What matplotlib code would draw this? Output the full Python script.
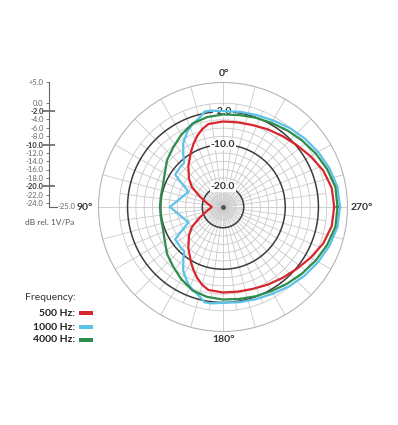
import numpy as np
import matplotlib
matplotlib.use("Agg")
import matplotlib.pyplot as plt
from matplotlib.patches import Rectangle

plt.rcParams['font.family'] = ['Lato', 'DejaVu Sans']

# angulos medidos desde el frente (270 grados en el grafico), mitad superior
phi_500 = [0, 10, 20, 30, 40, 50, 60, 70, 80, 90, 100, 105, 110, 115, 120,
           130, 140, 147, 155, 163, 170, 180]
db_500 = [1.8, 1.6, 0.7, -0.6, -1.8, -2.7, -3.4, -4.0, -4.3, -4.4, -4.7, -5.6,
          -6.8, -8.2, -9.6, -12.0, -14.3, -16.0, -18.7, -20.5, -21.5, -22.3]

phi_1000 = [0, 10, 20, 30, 40, 50, 60, 70, 80, 90, 97, 101, 104, 110, 115, 122,
            128, 131, 137, 146, 150, 156, 170, 180]
db_1000 = [3.2, 3.0, 2.3, 1.5, 0.7, -0.1, -0.9, -1.4, -1.7, -1.9, -1.6, -1.6,
           -2.6, -3.7, -4.8, -6.9, -9.5, -10.8, -10.9, -11.1, -13.5, -15.9,
           -14.3, -12.2]

phi_4000 = [0, 10, 20, 30, 40, 50, 60, 70, 80, 90, 100, 110, 120, 130, 140,
            150, 160, 170, 180]
db_4000 = [2.6, 2.5, 1.7, 0.8, -0.1, -0.9, -1.6, -2.1, -2.5, -2.7, -3.0, -3.6,
           -4.9, -6.3, -7.4, -8.8, -9.6, -9.8, -9.8]

series = [("500 Hz:", phi_500, db_500, "#d9262e"),
          ("1000 Hz:", phi_1000, db_1000, "#5cc3e8"),
          ("4000 Hz:", phi_4000, db_4000, "#2e8c4c")]

scale_ticks = [5, 0, -2, -4, -6, -8, -10, -12, -14, -16, -18, -20, -22, -24]
bold_rings = [-2, -10, -20]
angle_labels = ["0°", "90°", "180°", "270°"]

W, H = 398, 425


def px(x, y):
    # de pixeles a fraccion de figura
    return x / W, 1 - y / H


def simetrica(phi, db):
    # la respuesta es simetrica respecto al eje 90-270
    phi = np.array(phi, dtype=float)
    db = np.array(db, dtype=float)
    theta = np.concatenate([270 + phi, 270 - phi[::-1]])
    r = np.concatenate([db, db[::-1]])
    return np.radians(theta), r


fig = plt.figure(figsize=(W / 100, H / 100), dpi=100)

# ---- grafico polar ----
cx, cy, rad = 223, 207, 124.5
ax = fig.add_axes([(cx - rad) / W, (H - cy - rad) / H, 2 * rad / W, 2 * rad / H],
                  projection='polar')
ax.set_theta_zero_location('N')
ax.set_theta_direction(1)
ax.set_ylim(-25, 5)
ax.set_xticks([])
ax.set_yticks([])
ax.grid(False)
ax.spines['polar'].set_color('#b5b5b5')
ax.spines['polar'].set_linewidth(0.8)

grid_c = '#c9c9c9'
t_full = np.linspace(0, 2 * np.pi, 721)
for rr in range(-24, 1, 2):
    if rr in bold_rings:
        ax.plot(t_full, np.full_like(t_full, rr), color='#3c3c3c', lw=1.1, zorder=2)
    else:
        ax.plot(t_full, np.full_like(t_full, rr), color=grid_c, lw=0.6, zorder=1)

for a in np.arange(0, 360, 2.5):
    t = np.radians(a)
    if a % 15 == 0:
        ax.plot([t, t], [-25, 5], color=grid_c, lw=0.6, zorder=1)
    elif a % 7.5 == 0:
        ax.plot([t, t], [-25, 0], color=grid_c, lw=0.6, zorder=1)
    elif a % 5 == 0:
        ax.plot([t, t], [-25, -20], color='#d2d2d2', lw=0.4, zorder=1)

for rr in bold_rings:
    ax.text(0, rr, "%.1f" % rr, ha='center', va='center', fontsize=7.5,
            fontweight='bold', color='#333333', zorder=3,
            bbox=dict(facecolor='white', edgecolor='none', pad=0.6))

for nombre, phi, db, col in series:
    th, r = simetrica(phi, db)
    ax.plot(th, r, color=col, lw=1.6, zorder=4, solid_joinstyle='round')

ax.plot([0], [-25], 'o', ms=2.5, color='#555555', zorder=5)

# etiquetas de angulo
for lab, (x, y) in zip(angle_labels, [(224, 74), (85, 207), (224, 339), (362, 207)]):
    fig.text(*px(x, y), lab, ha='center', va='center', fontsize=7.5,
             fontweight='bold', color='#333333')

# ---- escala de la izquierda ----
ax_s = fig.add_axes([49.3 / W, (H - cy) / H, 7.5 / W, 125 / H])
ax_s.set_ylim(-25, 5)
ax_s.set_xlim(0, 1)
ax_s.patch.set_alpha(0)
for s in ['top', 'right']:
    ax_s.spines[s].set_visible(False)
for s in ['left', 'bottom']:
    ax_s.spines[s].set_color('#666666')
    ax_s.spines[s].set_linewidth(0.8)
ax_s.set_xticks([])
ax_s.set_yticks(scale_ticks)
ax_s.set_yticklabels([("+%.1f" % v) if v > 0 else ("%.1f" % v) for v in scale_ticks])
ax_s.tick_params(axis='y', direction='out', length=2.5, width=0.6, pad=1.5,
                 labelsize=5.5, colors='#666666')
for tk, v in zip(ax_s.yaxis.get_major_ticks(), scale_ticks):
    if v in bold_rings:
        tk.tick1line.set_marker('_')
        tk.tick1line.set_markersize(9)
        tk.tick1line.set_markeredgewidth(1.2)
        tk.tick1line.set_color('#444444')
        tk.label1.set_fontweight('bold')
        tk.label1.set_color('#333333')

fig.text(*px(58, 206.5), "-25.0", ha='left', va='center', fontsize=5.5, color='#666666')
fig.text(*px(25, 223), "dB rel. 1V/Pa", ha='left', va='center', fontsize=6, color='#555555')

# ---- leyenda ----
fig.text(*px(25, 298), "Frequency:", ha='left', va='center', fontsize=7.5, color='#333333')
for (nombre, phi, db, col), y in zip(series, [313, 327, 340]):
    fig.text(*px(75, y), nombre, ha='right', va='center', fontsize=7.5,
             fontweight='bold', color='#222222')
    x0, y0 = px(79, y + 2)
    fig.patches.append(Rectangle((x0, y0), 14 / W, 4 / H, transform=fig.transFigure,
                                 facecolor=col, edgecolor='none'))

fig.savefig("out.png", dpi=100)
